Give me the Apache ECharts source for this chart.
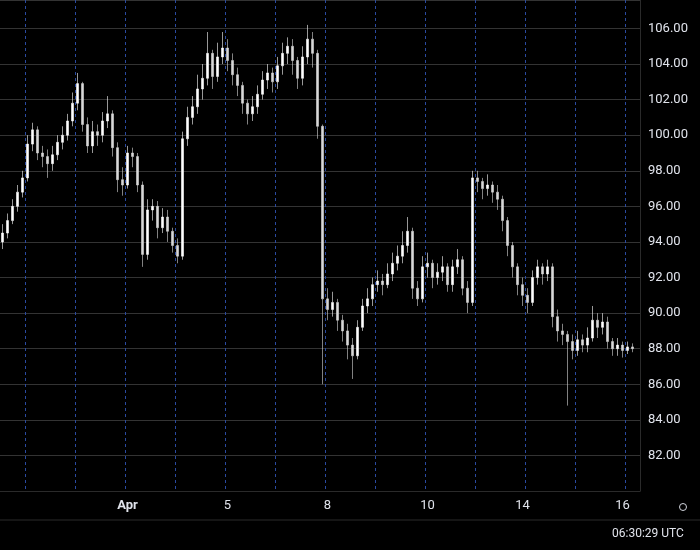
<!DOCTYPE html>
<html>
<head>
<meta charset="utf-8">
<script src="https://cdn.jsdelivr.net/npm/echarts@6/dist/echarts.min.js"></script>
<style>
  html, body { margin: 0; padding: 0; background: #000; }
  #chart { width: 700px; height: 550px; }
</style>
</head>
<body>
<div id="chart"></div>
<script>
// closes, one candle per 5px; open = previous close
const firstOpen = 94.0;
const closes = [
    94.5, 95.2, 96.0, 96.8, 97.6, 99.5, 100.3, 99.0, 98.8, 98.4,
    98.9, 99.6, 100.0, 100.8, 101.8, 102.9, 100.6, 99.4, 100.2, 100.0,
    100.8, 101.2, 99.3, 97.5, 97.2, 99.0, 98.8, 97.2, 93.3, 95.8,
    96.0, 94.8, 95.4, 94.6, 93.8, 93.2, 99.8, 101.0, 101.6, 102.6,
    103.2, 104.6, 103.3, 104.4, 104.9, 104.2, 103.4, 102.8, 101.8, 101.2,
    101.6, 102.3, 103.1, 103.5, 103.0, 103.9, 104.6, 105.0, 104.2, 103.2,
    104.4, 105.4, 104.6, 100.5, 90.8, 90.2, 90.6, 89.6, 89.0, 88.2,
    87.6, 89.2, 90.4, 90.8, 91.6, 91.8, 91.6, 92.2, 92.8, 93.2,
    93.8, 94.6, 91.4, 90.8, 92.6, 92.8, 92.0, 92.3, 92.6, 91.6,
    92.6, 93.0, 91.4, 90.6, 97.6, 97.4, 97.0, 97.2, 96.8, 96.4,
    95.2, 93.8, 92.6, 91.6, 91.0, 90.6, 92.0, 92.6, 92.2, 92.6,
    89.8, 89.0, 88.8, 88.4, 87.9, 88.5, 88.2, 88.6, 89.6, 89.2,
    89.5, 88.4, 88.0, 88.2, 87.9, 88.1, 88.0
];
const lows = [
    93.6, 94.2, 95.0, 95.7, 96.5, 97.4, 99.1, 98.6, 98.2, 97.6,
    98.0, 98.6, 99.2, 99.7, 100.5, 101.4, 100.2, 99.0, 99.0, 99.4,
    99.6, 100.4, 98.8, 96.8, 96.6, 97.0, 98.2, 96.8, 92.6, 93.0,
    95.2, 94.2, 94.5, 94.0, 93.4, 92.8, 93.0, 99.4, 100.6, 101.2,
    102.0, 102.8, 102.6, 103.0, 104.0, 103.6, 102.8, 102.2, 101.2, 100.6,
    100.8, 101.2, 102.0, 102.6, 102.4, 102.6, 103.4, 104.0, 103.4, 102.6,
    102.8, 104.0, 103.8, 99.8, 86.0, 89.6, 89.8, 89.0, 88.4, 87.4,
    86.3, 87.4, 89.0, 90.0, 90.4, 91.2, 91.0, 91.4, 91.8, 92.4,
    92.8, 93.4, 90.8, 90.4, 90.6, 92.0, 91.4, 91.6, 91.8, 91.2,
    91.2, 92.2, 91.0, 90.0, 90.4, 96.8, 96.4, 96.6, 96.2, 95.8,
    94.6, 93.2, 92.0, 91.0, 90.4, 90.0, 90.4, 91.6, 91.6, 91.8,
    89.2, 88.4, 88.2, 84.8, 87.4, 87.6, 87.8, 87.8, 88.4, 88.6,
    88.8, 88.0, 87.6, 87.6, 87.5, 87.7, 87.8
];
const highs = [
    95.0, 95.6, 96.4, 97.2, 98.0, 100.0, 100.7, 100.5, 99.4, 99.2,
    99.4, 100.0, 100.5, 101.2, 102.4, 103.5, 103.0, 101.0, 100.8, 100.6,
    101.3, 102.2, 101.4, 99.6, 98.2, 99.4, 99.3, 99.0, 97.4, 96.4,
    96.4, 96.3, 95.9, 95.8, 94.8, 94.2, 100.2, 101.6, 102.2, 103.4,
    104.0, 105.8, 104.8, 105.2, 105.8, 105.4, 104.6, 103.8, 103.0, 102.0,
    102.2, 102.8, 103.6, 104.0, 103.8, 104.4, 105.2, 105.5, 105.4, 104.4,
    105.0, 106.2, 105.8, 104.8, 100.6, 91.4, 91.2, 90.8, 89.9, 89.4,
    88.6, 89.6, 90.8, 91.4, 92.0, 92.4, 92.2, 92.8, 93.4, 93.8,
    94.6, 95.4, 94.8, 91.8, 93.2, 93.4, 93.0, 92.8, 93.2, 92.8,
    93.0, 93.6, 93.2, 91.8, 98.0, 98.0, 97.6, 97.8, 97.4, 97.2,
    96.6, 95.4, 94.0, 92.8, 92.0, 91.4, 92.4, 93.0, 92.8, 93.0,
    92.8, 90.2, 89.4, 89.0, 88.8, 89.0, 88.8, 89.2, 90.4, 90.0,
    90.0, 89.8, 88.6, 88.6, 88.4, 88.4, 88.3
];
const labelIdx = [25, 45, 65, 85, 104, 124];
const labelText = ['Apr', '5', '8', '10', '14', '16'];
const slotCount = 128;

const cats = [];
for (let i = 0; i < slotCount; i++) cats.push(String(i));
const candles = closes.map((c, i) => {
    const o = i === 0 ? firstOpen : closes[i - 1];
    return [o, c, lows[i], highs[i]];
});

const chart = echarts.init(document.getElementById('chart'));
chart.setOption({
    backgroundColor: '#000',
    animation: false,
    grid: { left: 0, right: 60, top: 0, height: 491 },
    xAxis: {
        type: 'category',
        data: cats,
        boundaryGap: true,
        axisLine: { show: true, lineStyle: { color: '#2a2a2a' } },
        axisTick: { show: false },
        axisLabel: {
            interval: (idx) => labelIdx.includes(idx),
            formatter: (v) => {
                const k = labelIdx.indexOf(Number(v));
                if (k < 0) return '';
                return k === 0 ? '{b|' + labelText[k] + '}' : labelText[k];
            },
            color: '#e0e3eb',
            fontSize: 13,
            fontFamily: 'Roboto',
            margin: 8,
            rich: { b: { fontWeight: 'bold', fontSize: 13, color: '#e0e3eb', fontFamily: 'Roboto' } }
        },
        splitLine: {
            show: true,
            interval: (idx) => idx % 10 === 5,
            lineStyle: { color: '#2a4aa0', type: [3, 3], width: 1 }
        }
    },
    yAxis: {
        type: 'value',
        position: 'right',
        min: 80,
        max: 107.6,
        interval: 2,
        axisLine: { show: true, lineStyle: { color: '#2a2a2a' } },
        axisTick: { show: false },
        axisLabel: {
            color: '#e0e3eb',
            fontSize: 13,
            fontFamily: 'Roboto',
            margin: 8,
            showMaxLabel: false,
            formatter: (v) => (v <= 80 || v > 106 ? '' : v.toFixed(2))
        },
        splitLine: { lineStyle: { color: '#333333', width: 1 } }
    },
    series: [{
        type: 'candlestick',
        data: candles,
        barWidth: 2,
        itemStyle: {
            color: '#ffffff',
            color0: '#d8d8d8',
            borderColor: '#ffffff',
            borderColor0: '#d8d8d8',
            borderWidth: 0.6
        }
    }],
    graphic: [
        { type: 'line', shape: { x1: 0, y1: 520, x2: 700, y2: 520 }, style: { stroke: '#2a2a2a', lineWidth: 1 } },
        { type: 'text', left: 612, top: 528, style: { text: '06:30:29 UTC', fill: '#e0e3eb', font: '12px Roboto' } },
        { type: 'circle', shape: { cx: 683, cy: 507, r: 3.5 }, style: { fill: 'none', stroke: '#d1d4dc', lineWidth: 1 } }
    ]
});
</script>
</body>
</html>
